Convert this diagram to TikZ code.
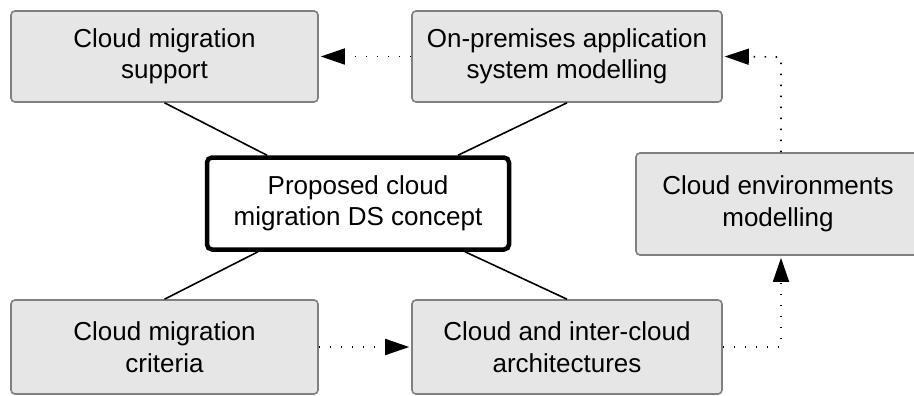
\documentclass[tikz,border=0pt]{standalone}
\usepackage{fontspec}
\setmainfont{Liberation Sans}
\usetikzlibrary{arrows.meta,calc}
\definecolor{boxfill}{HTML}{E6E6E6}
\definecolor{boxline}{HTML}{808080}
\begin{document}
\begin{tikzpicture}[x=1pt,y=-1pt,
  box/.style={draw=boxline, line width=1.6pt, fill=boxfill, rounded corners=4pt,
    align=center, inner sep=0pt, font=\fontsize{26}{31.5}\selectfont},
  mainbox/.style={draw=black, line width=4.5pt, fill=white, rounded corners=5pt,
    align=center, inner sep=0pt, font=\fontsize{26}{31.5}\selectfont},
  link/.style={draw=black, line width=1.6pt},
  dotlink/.style={draw=black, line width=1.6pt, dash pattern=on 1.6pt off 9.4pt,
    -{Triangle[length=24pt,width=16pt]}, shorten >=2pt}]
\useasboundingbox (0,0) rectangle (914,396);
\begin{scope}
\clip (0,0) rectangle (914,396);
\node[box, minimum width=307pt, minimum height=91pt] (b1) at (164.5,56.5) {Cloud migration\\support};
\node[box, minimum width=310pt, minimum height=91pt] (b2) at (567,56.5) {On-premises application\\system modelling};
\node[mainbox, minimum width=302pt, minimum height=92pt] (c) at (358,203.5) {Proposed cloud\\migration DS concept};
\node[box, minimum width=284pt, minimum height=102pt] (b4) at (778,204) {Cloud environments\\modelling};
\node[box, minimum width=307pt, minimum height=94pt] (b5) at (164.5,347) {Cloud migration\\criteria};
\node[box, minimum width=310pt, minimum height=94pt] (b6) at (567,347) {Cloud and inter-cloud\\architectures};
\end{scope}
\coordinate (ctl) at ([xshift=-91pt]c.north);
\coordinate (ctr) at ([xshift=100pt]c.north);
\coordinate (cbl) at ([xshift=-100pt]c.south);
\coordinate (cbr) at ([xshift=107pt]c.south);
\draw[link] (b1.south) -- (ctl);
\draw[link] (b2.south) -- (ctr);
\draw[link] (cbl) -- (b5.north);
\draw[link] (cbr) -- (b6.north);
\coordinate (up) at (781,57);
\coordinate (dn) at (781,347);
\draw[dotlink] (b2.west) -- (b1.east);
\draw[dotlink] (b5.east) -- (b6.west);
\draw[dotlink] (b4.north -| up) -- (up) -- (b2.east);
\draw[dotlink] (b6.east) -- (dn) -- (b4.south -| dn);
\end{tikzpicture}
\end{document}
